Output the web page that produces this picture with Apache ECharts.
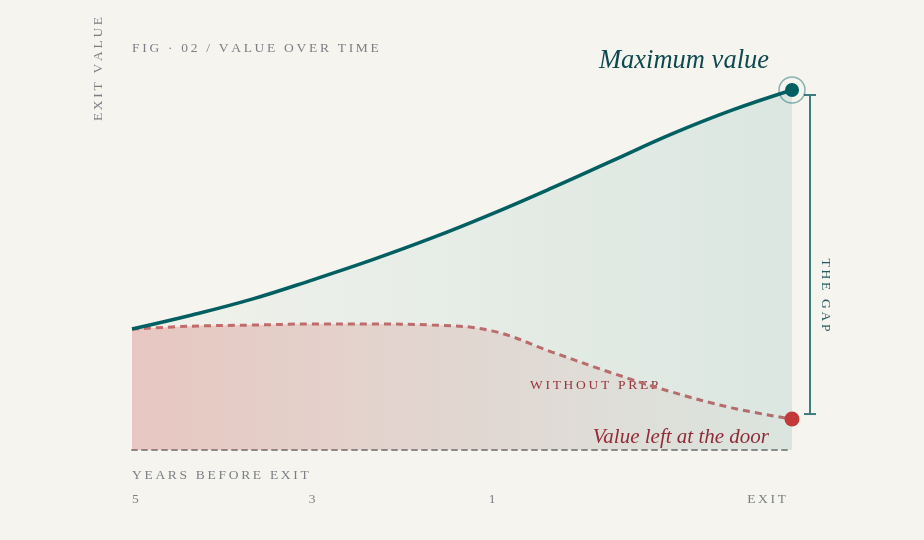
<!DOCTYPE html>
<html>
<head>
<meta charset="utf-8">
<script src="https://cdn.jsdelivr.net/npm/echarts@6/dist/echarts.min.js"></script>
<style>
  html, body { margin: 0; padding: 0; background: #f6f4ee; }
  #main { width: 924px; height: 540px; }
</style>
</head>
<body>
<div id="main"></div>
<script>
// tick labels along the bottom (12 steps, 5 years -> exit)
const tickLabels = ['5', '', '', '3', '', '', '1', '', '', '', '', 'EXIT'];
// exit value with preparation (teal line)
const withPrep = [33.6, 37.5, 41.9, 47.2, 52.8, 58.9, 65.6, 72.8, 80.3, 87.8, 94.4, 100];
// exit value without preparation (red dashed)
const withoutPrep = [33.6, 34.4, 34.7, 35, 35, 34.7, 33.1, 27.2, 21.4, 16.1, 11.7, 8.6];

const SERIF = '"Liberation Serif", "DejaVu Serif", serif';
const GREY = '#7b7f85';
const TEAL = '#005f61';
const RED = '#c3393a';

// fake letter spacing with thin spaces
function spaced(s) {
  return s.split('').join('\u2009');
}

const chart = echarts.init(document.getElementById('main'), null, { renderer: 'canvas' });
const last = withPrep.length - 1;

var option = {
  backgroundColor: '#f6f4ee',
  animation: false,
  grid: { left: 132, right: 132, top: 90, bottom: 90 },
  xAxis: {
    type: 'category',
    boundaryGap: false,
    data: tickLabels,
    axisLine: { lineStyle: { color: '#8c8c8c', width: 2, type: [5, 5] } },
    axisTick: { show: false },
    axisLabel: {
      interval: 0,
      margin: 42,
      color: GREY,
      fontFamily: SERIF,
      fontSize: 13.5,
      alignMinLabel: 'left',
      alignMaxLabel: 'right',
      formatter: function (v, i) {
        if (!v) return '';
        return i === last ? '{e|' + spaced(v) + '}' : spaced(v);
      },
      rich: {
        e: { color: GREY, fontFamily: SERIF, fontSize: 13.5, padding: [0, 6, 0, 0] }
      }
    },
    splitLine: { show: false }
  },
  yAxis: {
    type: 'value',
    min: 0,
    max: 100,
    show: false
  },
  series: [
    {
      name: 'With prep',
      type: 'line',
      data: withPrep,
      smooth: 0.4,
      symbol: 'none',
      z: 5,
      lineStyle: { color: TEAL, width: 3.5 },
      areaStyle: {
        color: new echarts.graphic.LinearGradient(0, 0, 1, 0, [
          { offset: 0, color: 'rgba(20,130,125,0.03)' },
          { offset: 1, color: 'rgba(20,130,125,0.17)' }
        ])
      }
    },
    {
      name: 'Without prep',
      type: 'line',
      data: withoutPrep,
      smooth: 0.4,
      symbol: 'none',
      z: 4,
      lineStyle: { color: '#c86a6a', width: 3, type: [7, 5] },
      areaStyle: {
        color: new echarts.graphic.LinearGradient(0, 0, 1, 0, [
          { offset: 0, color: 'rgba(210,80,75,0.38)' },
          { offset: 1, color: 'rgba(210,80,75,0.02)' }
        ])
      }
    },
    {
      // ring around the max point
      type: 'scatter',
      data: [[last, withPrep[last]]],
      symbolSize: 26,
      z: 6,
      itemStyle: { color: 'rgba(0,0,0,0)', borderColor: 'rgba(0,95,97,0.45)', borderWidth: 1.5, opacity: 1 }
    },
    {
      type: 'scatter',
      data: [[last, withPrep[last]]],
      symbolSize: 14,
      z: 7,
      itemStyle: { color: TEAL, opacity: 1 }
    },
    {
      type: 'scatter',
      data: [[last, withoutPrep[last]]],
      symbolSize: 15,
      z: 7,
      itemStyle: { color: RED, opacity: 1 }
    },
    {
      // gap bracket between the two end values
      type: 'custom',
      z: 6,
      data: [[last, withPrep[last], withoutPrep[last]]],
      renderItem: function (params, api) {
        const top = api.coord([api.value(0), api.value(1)]);
        const bot = api.coord([api.value(0), api.value(2)]);
        const x = top[0] + 18;
        const y1 = top[1] + 5;
        const y2 = bot[1] - 5;
        const style = { stroke: '#3c7d80', lineWidth: 2 };
        return {
          type: 'group',
          children: [
            { type: 'line', shape: { x1: x, y1: y1, x2: x, y2: y2 }, style: style },
            { type: 'line', shape: { x1: x - 6, y1: y1, x2: x + 6, y2: y1 }, style: style },
            { type: 'line', shape: { x1: x - 6, y1: y2, x2: x + 6, y2: y2 }, style: style }
          ]
        };
      }
    }
  ],
  graphic: [
    {
      type: 'text', x: 132, y: 48,
      style: { text: spaced('FIG · 02 / VALUE OVER TIME'), fill: GREY, font: '13.5px ' + SERIF, align: 'left', verticalAlign: 'middle' }
    },
    {
      type: 'text', x: 98, y: 69, rotation: Math.PI / 2,
      style: { text: spaced('EXIT VALUE'), fill: GREY, font: '13.5px ' + SERIF, align: 'center', verticalAlign: 'middle' }
    },
    {
      type: 'text', x: 826, y: 295, rotation: -Math.PI / 2,
      style: { text: spaced('THE GAP'), fill: '#1f5a5e', font: '13.5px ' + SERIF, align: 'center', verticalAlign: 'middle' }
    },
    {
      type: 'text', x: 769, y: 61,
      style: { text: 'Maximum value', fill: '#0d4a4f', font: 'italic 26.5px ' + SERIF, align: 'right', verticalAlign: 'middle' }
    },
    {
      type: 'text', x: 769, y: 437,
      style: { text: 'Value left at the door', fill: '#9b1f2d', font: 'italic 21px ' + SERIF, align: 'right', verticalAlign: 'middle' }
    },
    {
      type: 'text', x: 530, y: 385,
      style: { text: spaced('WITHOUT PREP'), fill: '#9b2a35', font: '13.5px ' + SERIF, align: 'left', verticalAlign: 'middle' }
    },
    {
      type: 'text', x: 132, y: 475,
      style: { text: spaced('YEARS BEFORE EXIT'), fill: GREY, font: '13.5px ' + SERIF, align: 'left', verticalAlign: 'middle' }
    }
  ]
};

chart.setOption(option);
</script>
</body>
</html>
